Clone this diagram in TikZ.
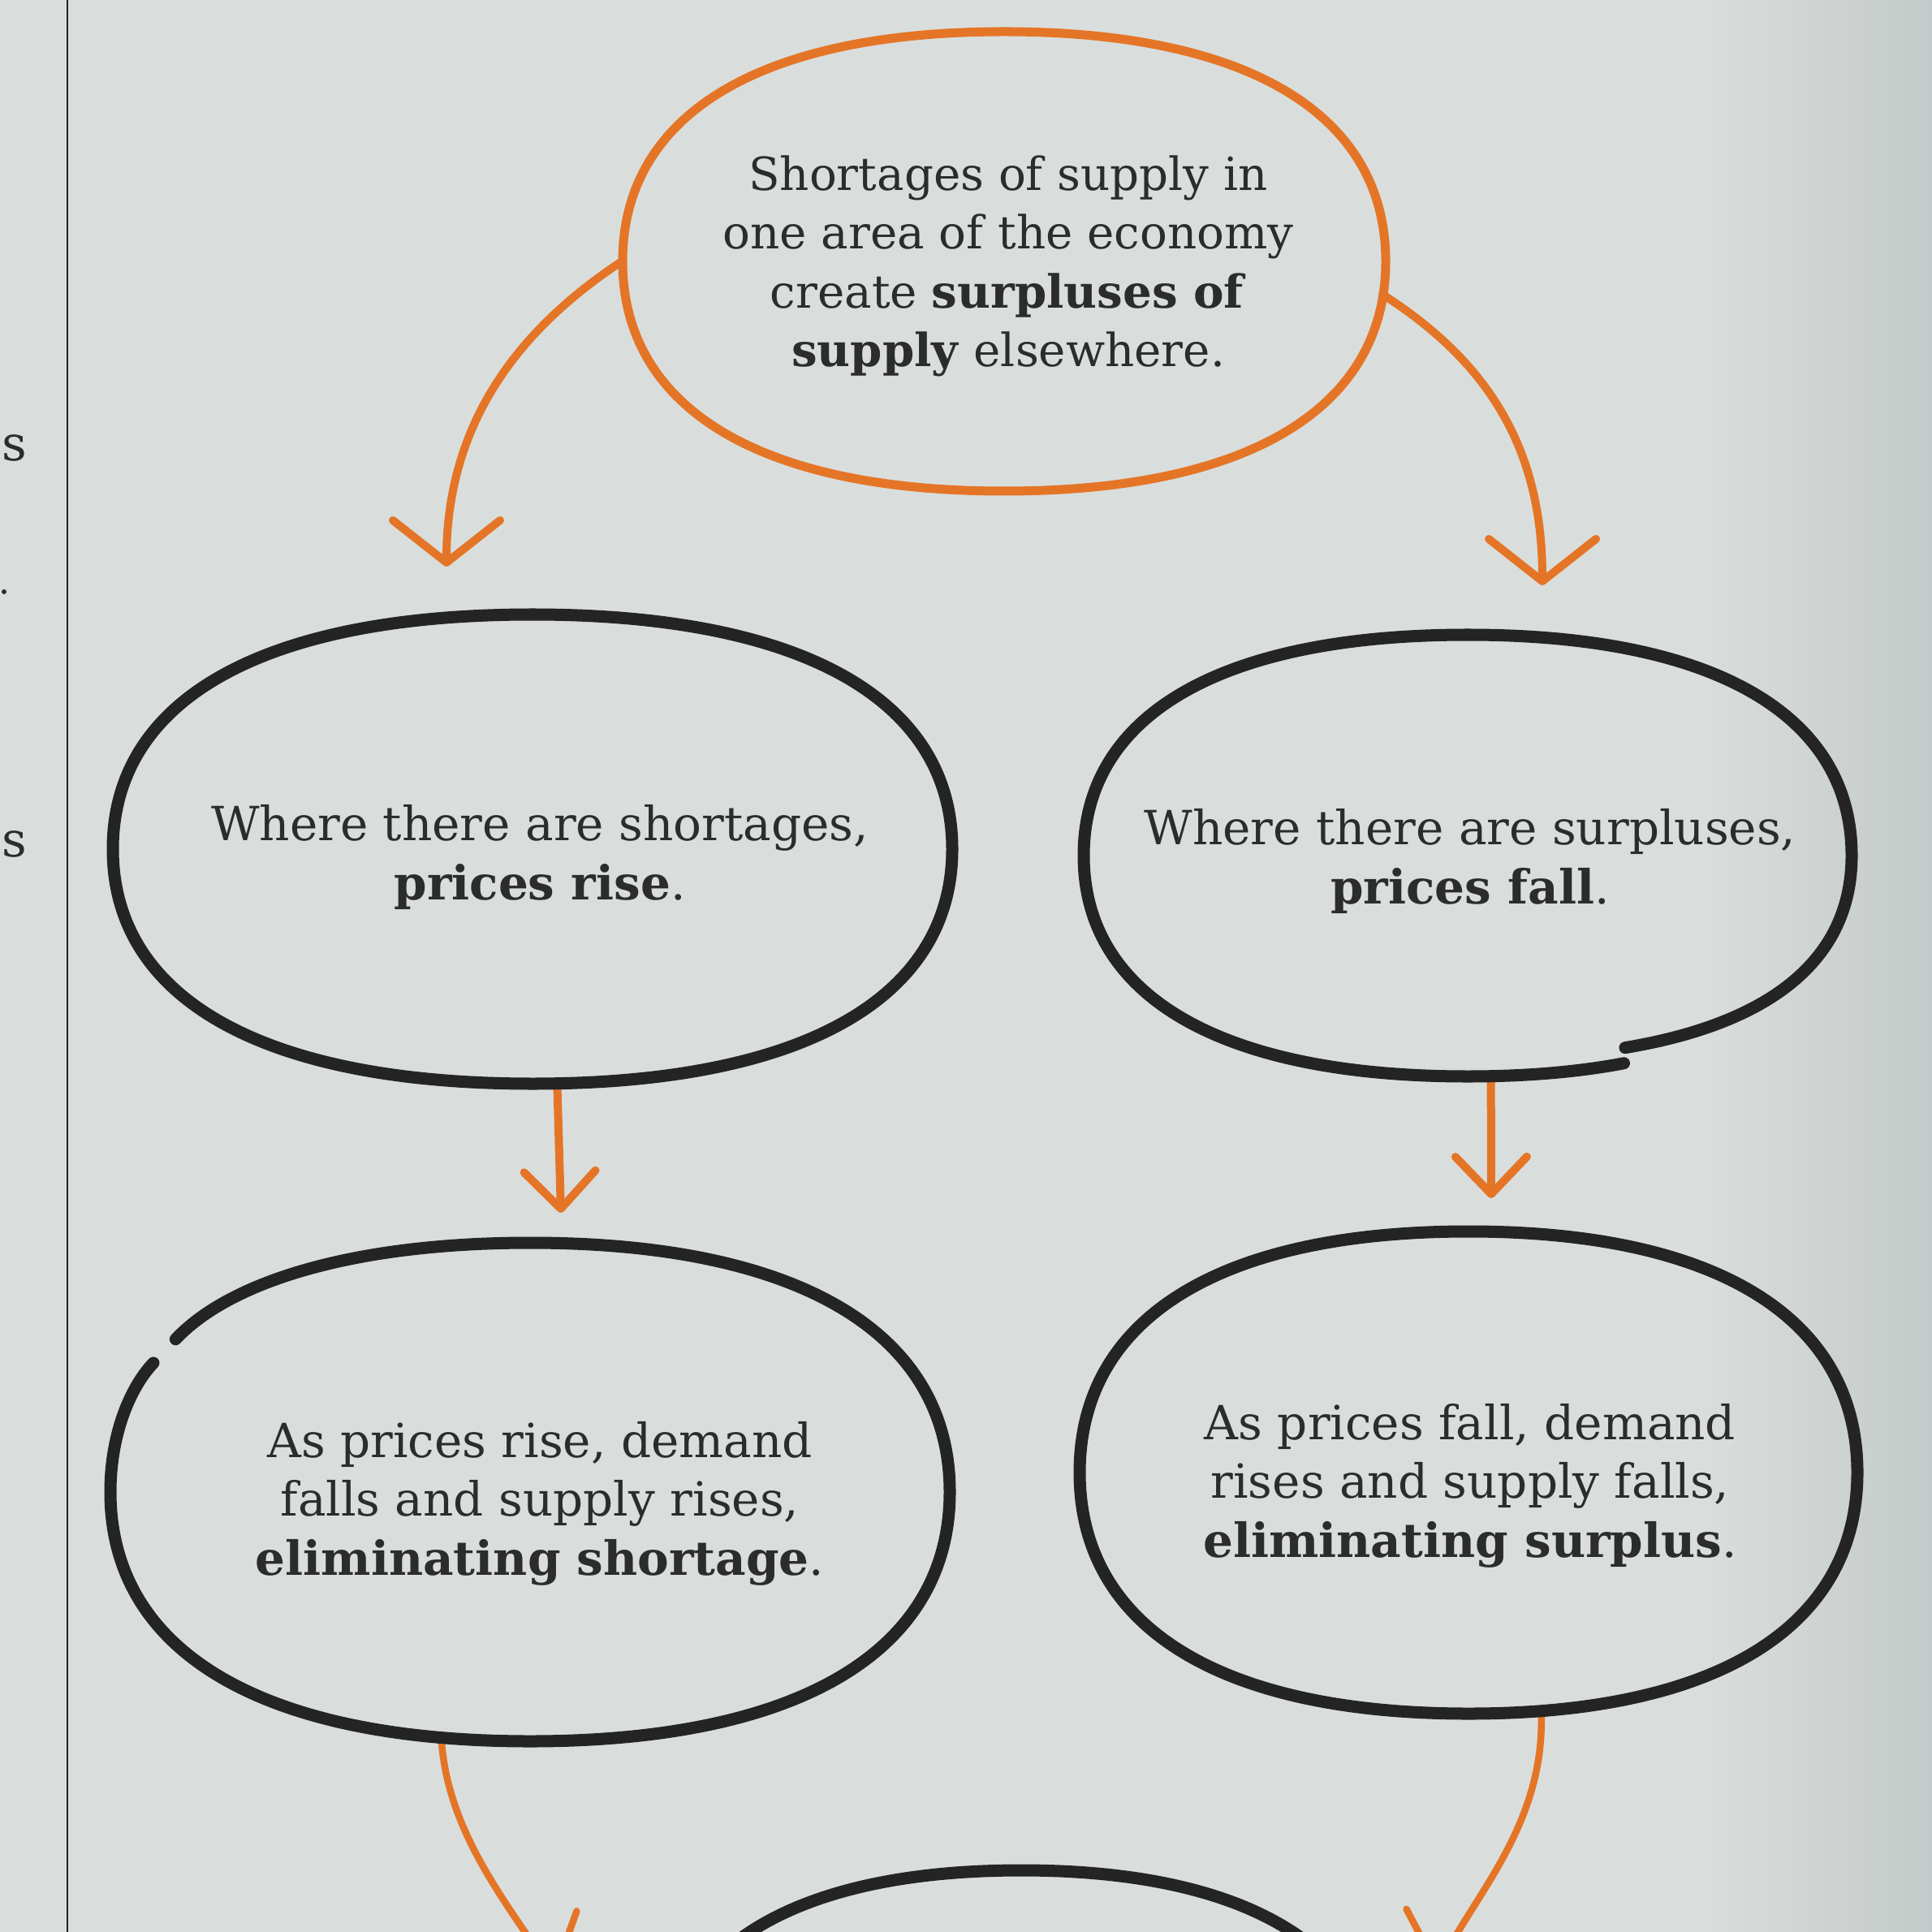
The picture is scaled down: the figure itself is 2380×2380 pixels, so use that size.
\documentclass[tikz,border=0pt]{standalone}
\usepackage{fontspec}
\setmainfont{DejaVu Serif}
\usetikzlibrary{shapes.geometric,arrows.meta}
\definecolor{paper}{RGB}{217,222,221}
\definecolor{paperdark}{RGB}{196,201,201}
\definecolor{orng}{RGB}{229,117,38}
\definecolor{ink}{RGB}{36,36,36}
\definecolor{txt}{RGB}{44,44,44}
\newcommand\kk{0.64}
\newcommand\blobshape{(0,1) .. controls (-\kk,1) and (-1,\kk) .. (-1,0) .. controls (-1,-\kk) and (-\kk,-1) .. (0,-1) .. controls (\kk,-1) and (1,-\kk) .. (1,0) .. controls (1,\kk) and (\kk,1) .. (0,1)}
% outline opened at the upper left (west-top quarter split at t=0.35)
\newcommand\gapblobshape{(-0.8711,-0.5657) .. controls (-0.7137,-0.8479) and (-0.416,-1) .. (0,-1) .. controls (\kk,-1) and (1,-\kk) .. (1,0) .. controls (1,\kk) and (\kk,1) .. (0,1) .. controls (-\kk,1) and (-1,\kk) .. (-1,0) .. controls (-1,-0.224) and (-0.9559,-0.4137) .. (-0.8711,-0.5657)}
% outline broken at the lower right, the two ends offset (east-bottom quarter split at t=0.763)
\newcommand\stepblobshape{(0.4068,0.9404) .. controls (0.2877,0.9798) and (0.1517,1) .. (0,1) .. controls (-\kk,1) and (-1,\kk) .. (-1,0) .. controls (-1,-\kk) and (-\kk,-1) .. (0,-1) .. controls (\kk,-1) and (1,-\kk) .. (1,0) .. controls (1,0.47) and (0.79,0.76) .. (0.41,0.87)}
\begin{document}
\begin{tikzpicture}[x=0.01cm,y=-0.01cm,
  bubble/.style={ellipse, inner sep=0pt},
  inkline/.style={draw=ink, line width=0.15cm, line join=round, line cap=round},
  orngline/.style={draw=orng, line width=0.11cm, line join=round, line cap=round},
  label/.style={text=txt, align=center, inner sep=0pt, font=\fontsize{16.5}{20.6}\selectfont},
  toplabel/.style={label, font=\fontsize{16}{20.6}\selectfont},
  flow/.style={draw=orng, line width=0.1cm, line cap=round, line join=round},
  thinflow/.style={flow, line width=0.085cm},
  widetip/.style={-{Straight Barb[length=0.52cm,width=1.32cm,round]}},
  narrowtip/.style={-{Straight Barb[length=0.46cm,width=0.88cm,round]}},
  margintext/.style={text=txt, inner sep=0pt, font=\fontsize{17}{20}\selectfont}
]
\useasboundingbox (0,0) rectangle (2380,2380);
\clip (0,0) rectangle (2380,2380);
\fill[paper] (0,0) rectangle (2380,2380);
\shade[left color=paper, right color=paperdark] (2100,0) rectangle (2380,2380);

% margin
\draw[ink, line width=0.025cm] (83,0) -- (83,2380);
\node[margintext] (s1) at (18,552) {s};
\node[margintext] (s2) at (18,1040) {s};
\fill[txt] (5,729) circle (3);

% bubbles (named shapes)
\node[bubble, minimum width=9.4cm, minimum height=5.66cm] (top) at (1237,322) {};
\node[bubble, minimum width=10.34cm, minimum height=5.78cm] (lm) at (656,1046) {};
\node[bubble, minimum width=9.46cm, minimum height=5.44cm] (rm) at (1808,1054) {};
\node[bubble, minimum width=10.34cm, minimum height=6.14cm] (lb) at (653,1838) {};
\node[bubble, minimum width=9.58cm, minimum height=5.94cm] (rb) at (1809,1814) {};
\node[bubble, minimum width=8.9cm, minimum height=5.6cm] (bot) at (1258,2584) {};

% texts
\node[toplabel] (toptext) at ([shift={(5,6)}]top.center)
  {Shortages of supply in\\one area of the economy\\create \textbf{surpluses of}\\\textbf{supply} elsewhere.};
\node[label] (lmtext) at ([shift={(9,10)}]lm.center)
  {Where there are shortages,\\\textbf{prices rise}.};
\node[label] (rmtext) at ([shift={(3,7)}]rm.center)
  {Where there are surpluses,\\\textbf{prices fall}.};
\node[label] (lbtext) at ([shift={(12,14)}]lb.center)
  {As prices rise, demand\\falls and supply rises,\\\textbf{eliminating shortage}.};
\node[label] (rbtext) at ([shift={(2,16)}]rb.center)
  {As prices fall, demand\\rises and supply falls,\\\textbf{eliminating surplus}.};

% arrow ends
\coordinate (t1) at (550,698);
\coordinate (t2) at (1900,721);
\coordinate (t3) at (691,1494);
\coordinate (t4) at (1837,1476);
\coordinate (t5) at (684,2437);
\coordinate (t6) at (1770,2430);

% connectors
\draw[flow, widetip] (top.west) .. controls (640,405) and (550,520) .. (t1);
\draw[flow, widetip] (top.-5) .. controls (1840,450) and (1900,560) .. (t2);
\draw[flow, narrowtip] (lm.-84) -- (t3);
\draw[flow, narrowtip] (rm.-84) -- (t4);
\draw[thinflow, widetip] (lb.-110) .. controls (550,2260) and (630,2350) .. (t5);
\draw[thinflow, widetip] (rb.-73) .. controls (1905,2250) and (1810,2340) .. (t6);

% outlines
\draw[orngline, shift={(top.center)}, xscale=470, yscale=283] \blobshape;
\draw[inkline, shift={(lm.center)}, xscale=517, yscale=289] \blobshape;
\draw[inkline, shift={(rm.center)}, xscale=473, yscale=272] \stepblobshape;
\draw[inkline, shift={(lb.center)}, xscale=517, yscale=307, shorten <=0.2cm, shorten >=0.2cm] \gapblobshape;
\draw[inkline, shift={(rb.center)}, xscale=479, yscale=297] \blobshape;
\draw[inkline, shift={(bot.center)}, xscale=445, yscale=280] \blobshape;
\end{tikzpicture}
\end{document}
